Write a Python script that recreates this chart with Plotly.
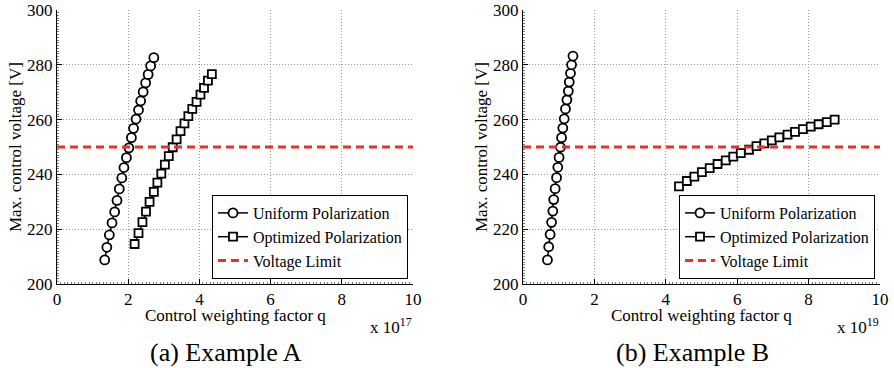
import plotly.graph_objects as go

# ---------------- data ----------------
q_uniform_a = [1.34, 1.40, 1.47, 1.545, 1.62, 1.685, 1.75, 1.82, 1.88, 1.95, 2.02,
               2.09, 2.15, 2.22, 2.29, 2.35, 2.42, 2.49, 2.56, 2.63, 2.72]
v_uniform_a = [208.8, 213.4, 217.9, 222.3, 226.3, 230.5, 234.7, 238.7, 242.5, 246.1, 249.7,
               253.4, 256.8, 260.2, 263.5, 266.8, 270.1, 273.4, 276.5, 279.6, 282.6]
q_optim_a = [2.18, 2.29, 2.40, 2.50, 2.60, 2.72, 2.82, 2.93, 3.03, 3.14, 3.25,
             3.36, 3.47, 3.58, 3.69, 3.80, 3.92, 4.03, 4.13, 4.24, 4.35]
v_optim_a = [214.6, 218.6, 222.6, 226.4, 230.0, 233.6, 237.0, 240.3, 243.6, 246.7, 249.9,
             252.8, 255.8, 258.6, 261.3, 263.9, 266.5, 269.1, 271.6, 274.2, 276.6]

q_uniform_b = [0.685, 0.72, 0.76, 0.80, 0.835, 0.86, 0.90, 0.94, 0.975, 1.01, 1.05,
               1.08, 1.115, 1.155, 1.19, 1.23, 1.27, 1.295, 1.33, 1.36, 1.40]
v_uniform_b = [208.8, 213.6, 218.1, 222.5, 226.6, 230.8, 234.8, 238.8, 242.6, 246.2, 249.9,
               253.4, 256.9, 260.3, 263.9, 267.2, 270.4, 273.7, 276.9, 280.0, 283.2]
q_optim_b = [4.37, 4.59, 4.80, 5.01, 5.23, 5.45, 5.68, 5.89, 6.10, 6.33, 6.54,
             6.76, 6.97, 7.18, 7.41, 7.62, 7.84, 8.06, 8.28, 8.51, 8.73]
v_optim_b = [235.6, 237.6, 239.2, 240.8, 242.3, 243.8, 245.1, 246.5, 247.8, 249.0, 250.3,
             251.3, 252.4, 253.5, 254.5, 255.5, 256.5, 257.4, 258.3, 259.1, 260.0]

limit_q = [0, 10]
voltage_limit = [250, 250]

series_names = ["Uniform Polarization", "Optimized Polarization", "Voltage Limit"]
x_title = "Control weighting factor q"
y_title = "Max. control voltage [V]"
exponents = ["17", "19"]
captions = ["(a) Example A", "(b) Example B"]

# ---------------- figure ----------------
W, H = 894, 368
FONT = "Liberation Serif"
RED = "#e8302c"

fig = go.Figure()

panels = [
    ("x", "y", "legend", q_uniform_a, v_uniform_a, q_optim_a, v_optim_a),
    ("x2", "y2", "legend2", q_uniform_b, v_uniform_b, q_optim_b, v_optim_b),
]
for xa, ya, lg, qu, vu, qo, vo in panels:
    fig.add_trace(go.Scatter(
        x=qu, y=vu, mode="lines+markers", name=series_names[0],
        xaxis=xa, yaxis=ya, legend=lg,
        line=dict(color="black", width=1.5),
        marker=dict(symbol="circle", size=9, color="white",
                    line=dict(color="black", width=1.8)),
    ))
    fig.add_trace(go.Scatter(
        x=qo, y=vo, mode="lines+markers", name=series_names[1],
        xaxis=xa, yaxis=ya, legend=lg,
        line=dict(color="black", width=1.5),
        marker=dict(symbol="square", size=8, color="white",
                    line=dict(color="black", width=1.8)),
    ))
    fig.add_trace(go.Scatter(
        x=limit_q, y=voltage_limit, mode="lines", name=series_names[2],
        xaxis=xa, yaxis=ya, legend=lg,
        line=dict(color=RED, width=3, dash="8px,5px"),
    ))

tickfont = dict(family=FONT, size=17, color="black")


def xaxis(domain, anchor):
    return dict(domain=domain, anchor=anchor, range=[0, 10], tick0=0, dtick=2,
                showline=True, linecolor="black", linewidth=1,
                ticks="inside", ticklen=5, tickcolor="black",
                showgrid=True, gridcolor="#999", griddash="1px,2px", gridwidth=1,
                zeroline=False, tickfont=tickfont, automargin=False,
                minor=dict(ticks="inside", ticklen=2, dtick=0.1, tickcolor="#777",
                           showgrid=False))


def yaxis(domain, anchor):
    return dict(domain=domain, anchor=anchor, range=[200, 300], tick0=200, dtick=20,
                showline=True, linecolor="black", linewidth=1,
                ticks="inside", ticklen=5, tickcolor="black",
                showgrid=True, gridcolor="#999", griddash="1px,2px", gridwidth=1,
                zeroline=False, tickfont=tickfont, automargin=False,
                minor=dict(ticks="inside", ticklen=2, dtick=1, tickcolor="#777",
                           showgrid=False))


ydom = [(H - 284) / H, (H - 10) / H]
x1dom = [57 / W, 413 / W]
x2dom = [523 / W, 880 / W]

legend_common = dict(bgcolor="white", bordercolor="black", borderwidth=1,
                     font=dict(family=FONT, size=16, color="black"),
                     itemwidth=30, xanchor="right", yanchor="bottom",
                     tracegroupgap=0)

fig.update_layout(
    template="none",
    width=W, height=H, autosize=False,
    margin=dict(l=0, r=0, t=0, b=0, autoexpand=False),
    paper_bgcolor="white", plot_bgcolor="white",
    xaxis=xaxis(x1dom, "y"), yaxis=yaxis(ydom, "x"),
    xaxis2=xaxis(x2dom, "y2"), yaxis2=yaxis(ydom, "x2"),
    legend=dict(x=408 / W, y=(H - 279) / H, **legend_common),
    legend2=dict(x=875 / W, y=(H - 279) / H, **legend_common),
    font=dict(family=FONT, size=17, color="black"),
)

ann = []
for i, (ax0, ax1) in enumerate([(57, 413), (523, 880)]):
    ann.append(dict(text=y_title, x=(ax0 - 42) / W, y=(H - 147) / H, xref="paper", yref="paper",
                    textangle=-90, showarrow=False, xanchor="center", yanchor="middle",
                    font=dict(family=FONT, size=17, color="black")))
    ann.append(dict(text=x_title, x=(ax0 + 178) / W, y=(H - 315) / H, xref="paper", yref="paper",
                    showarrow=False, xanchor="center", yanchor="middle",
                    font=dict(family=FONT, size=17, color="black")))
    ann.append(dict(text="x 10<sup>" + exponents[i] + "</sup>", x=(ax1 + 1) / W, y=(H - 326) / H,
                    xref="paper", yref="paper", showarrow=False, xanchor="right", yanchor="middle",
                    font=dict(family=FONT, size=17, color="black")))
    ann.append(dict(text=captions[i], x=(ax0 + 169) / W, y=(H - 352) / H, xref="paper", yref="paper",
                    showarrow=False, xanchor="center", yanchor="middle",
                    font=dict(family=FONT, size=26, color="black")))
fig.update_layout(annotations=ann)

fig.write_html("out.html", config={"displayModeBar": False},
               post_script="document.body.style.margin='0';")
